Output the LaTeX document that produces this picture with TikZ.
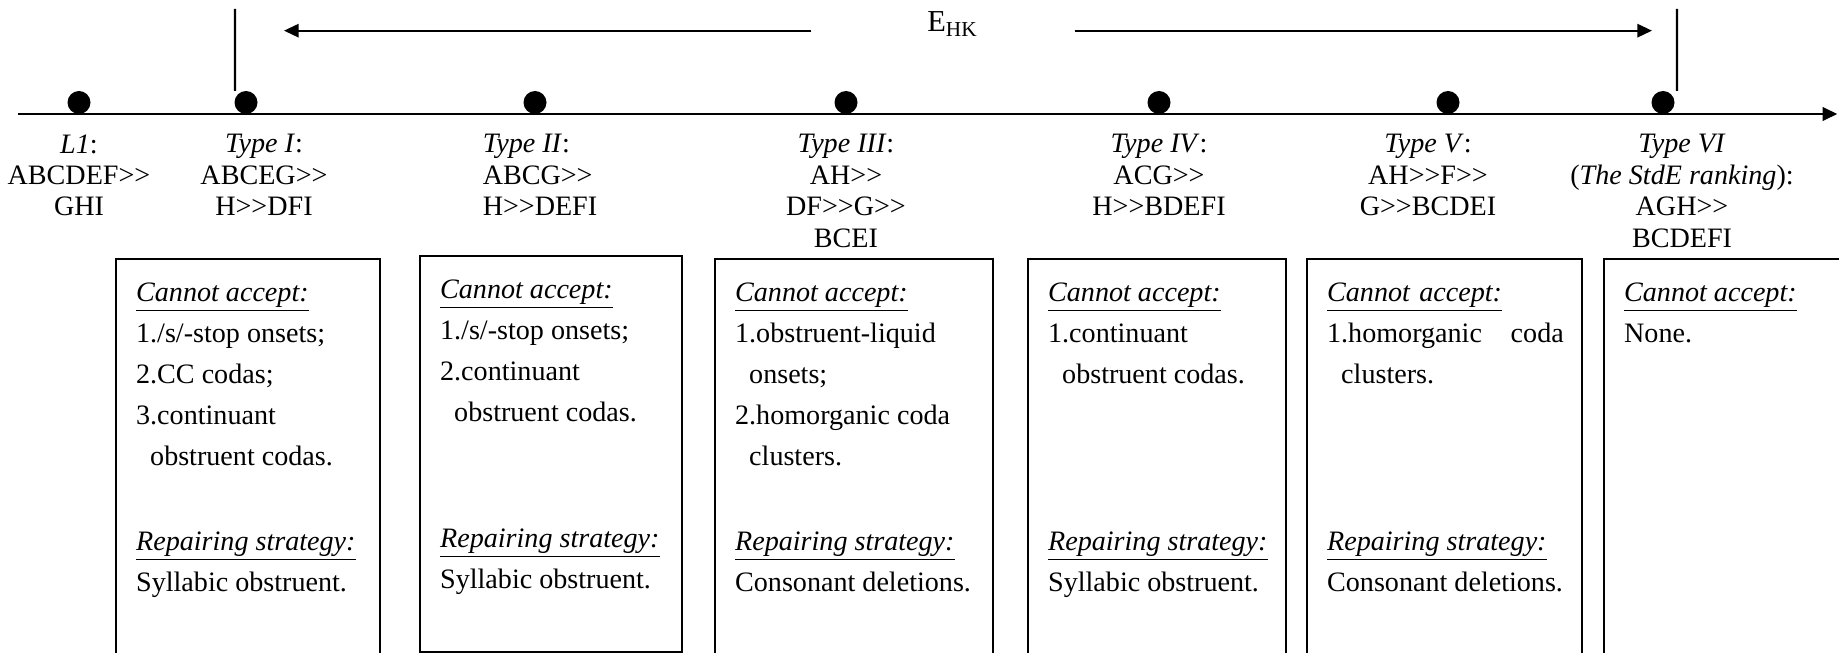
\documentclass[tikz,border=0pt]{standalone}
\usepackage{fontspec}
\setmainfont{Liberation Serif}[Ligatures=TeXOff]
\usetikzlibrary{positioning,arrows.meta}
\newcommand{\cannot}{\underline{\textit{Cannot accept:}}}
\newcommand{\repair}{\underline{\textit{Repairing strategy:}}}

\begin{document}
\begin{tikzpicture}[>={Triangle[length=0.22cm,width=0.2cm]},
    dot/.style={circle,fill,inner sep=0pt,outer sep=0pt,minimum size=0.345cm},
    rank/.style={align=center,inner sep=0pt,font=\fontsize{12}{13.4}\selectfont},
    panel/.style={draw,line width=0.9pt,anchor=north west,inner sep=0pt,minimum height=6.3cm},
    boxtext/.style={align=left,inner sep=0pt,font=\fontsize{12}{17.5}\selectfont}]
            \useasboundingbox (0,0) rectangle (27.585,9.78);
            \def\ax{8.07}
            \def\dy{8.2425}
            \def\ytop{5.91}

            \coordinate (s) at (0.27,\ax);
            \coordinate (e) at (27.56,\ax);
            \draw[line width=1.15pt,->] (s) -- (e);

            \node[dot] (d1) at (1.185,\dy) {};
            \node[dot] (d2) at (3.69,\dy) {};
            \node[dot] (d3) at (8.025,\dy) {};
            \node[dot] (d4) at (12.69,\dy) {};
            \node[dot] (d5) at (17.385,\dy) {};
            \node[dot] (d6) at (21.72,\dy) {};
            \node[dot] (d7) at (24.945,\dy) {};

            \node[rank,below=0.3cm of d1] (l1) {\textit{L1}:\\ABCDEF>>\\GHI};
            \node[rank,below=0.3cm of d2,xshift=0.27cm] (l2) {\textit{Type I}:\\ABCEG>>\\H>>DFI};
            \node[rank,align=left,below=0.3cm of d3,xshift=0.075cm] (l3) {\textit{Type II}:\\ABCG>>\\H>>DEFI};
            \node[rank,below=0.3cm of d4] (l4) {\textit{Type III}:\\AH>>\\DF>>G>>\\BCEI};
            \node[rank,below=0.3cm of d5] (l5) {\textit{Type IV}:\\ACG>>\\H>>BDEFI};
            \node[rank,below=0.3cm of d6,xshift=-0.3cm] (l6) {\textit{Type V}:\\AH>>F>>\\G>>BCDEI};
            \node[rank,below=0.3cm of d7,xshift=0.285cm] (l7) {\textit{Type VI}\\(\textit{The StdE ranking}):\\AGH>>\\BCDEFI};

            \coordinate (m1) at (3.525,9.645);
            \coordinate (m2) at (25.155,9.645);
            \draw[line width=0.9pt] (m1) -- ([xshift=-0.165cm]d2.north);
            \draw[line width=0.9pt] (m2) -- ([xshift=0.21cm]d7.north);

            \node[font=\fontsize{13}{15}\selectfont,inner sep=0pt,anchor=base] (ehk) at (14.29,9.3) {E\textsubscript{HK}};
            \coordinate (ea) at (12.17,9.32);
            \coordinate (eb) at (4.26,9.32);
            \coordinate (ec) at (16.12,9.32);
            \coordinate (ed) at (24.78,9.32);
            \draw[line width=0.85pt,->] (ea) -- (eb);
            \draw[line width=0.85pt,->] (ec) -- (ed);

            \node[panel,minimum width=3.96cm] (b1) at (1.725,\ytop) {};
            \node[panel,minimum width=3.93cm,minimum height=5.94cm] (b2) at (6.285,5.955) {};
            \node[panel,minimum width=4.17cm] (b3) at (10.71,\ytop) {};
            \node[panel,minimum width=3.87cm] (b4) at (15.405,\ytop) {};
            \node[panel,minimum width=4.125cm] (b5) at (19.59,\ytop) {};
            \node[panel,minimum width=4.5cm] (b6) at (24.045,\ytop) {};

            \node[boxtext,below right=0.36cm and 0.31cm of b1.north west] (c1) {\cannot\\1./s/-stop onsets;\\2.CC codas;\\3.continuant\\\hspace*{0.5em}obstruent codas.};
            \node[boxtext,below right=4.1cm and 0.31cm of b1.north west] (r1) {\repair\\Syllabic obstruent.};
            \node[boxtext,below right=0.36cm and 0.31cm of b2.north west] (c2) {\cannot\\1./s/-stop onsets;\\2.continuant\\\hspace*{0.5em}obstruent codas.};
            \node[boxtext,below right=4.1cm and 0.31cm of b2.north west] (r2) {\repair\\Syllabic obstruent.};
            \node[boxtext,below right=0.36cm and 0.31cm of b3.north west] (c3) {\cannot\\1.obstruent-liquid\\\hspace*{0.5em}onsets;\\2.homorganic coda\\\hspace*{0.5em}clusters.};
            \node[boxtext,below right=4.1cm and 0.31cm of b3.north west] (r3) {\repair\\Consonant deletions.};
            \node[boxtext,below right=0.36cm and 0.31cm of b4.north west] (c4) {\cannot\\1.continuant\\\hspace*{0.5em}obstruent codas.};
            \node[boxtext,below right=4.1cm and 0.31cm of b4.north west] (r4) {\repair\\Syllabic obstruent.};
            \node[boxtext,text width=3.55cm,below right=0.36cm and 0.31cm of b5.north west] (c5) {\noindent\cannot\\1.homorganic\hfill coda\\\hspace*{0.5em}clusters.};
            \node[boxtext,below right=4.1cm and 0.31cm of b5.north west] (r5) {\repair\\Consonant deletions.};
            \node[boxtext,below right=0.36cm and 0.31cm of b6.north west] (c6) {\cannot\\None.};
\end{tikzpicture}
\end{document}
